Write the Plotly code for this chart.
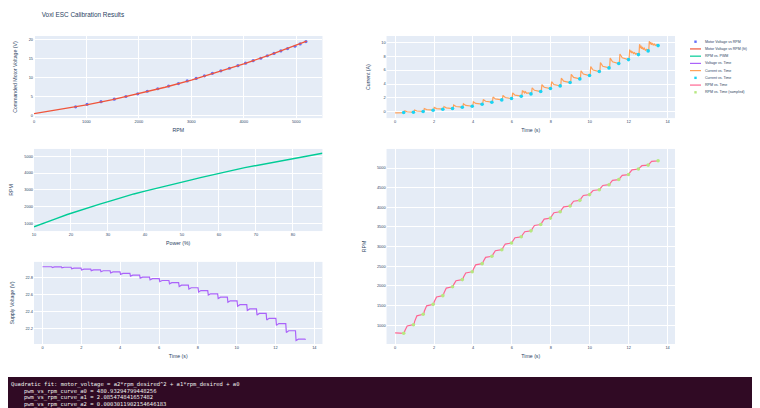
import plotly.graph_objects as go
from plotly.subplots import make_subplots

# ---------------- data ----------------
power_pct = [10, 13, 16, 19, 22, 25, 28, 31, 34, 37, 40, 43, 46, 49, 52, 55, 58,
             61, 64, 67, 70, 73, 76, 79, 82, 85, 88]
rpm_cal = [793, 1012, 1278, 1530, 1752, 1978, 2160, 2360, 2567, 2754, 2921, 3092,
           3250, 3402, 3563, 3726, 3888, 4033, 4178, 4324, 4448, 4576, 4707, 4835,
           4976, 5075, 5185]
motor_voltage = [2.29, 2.96, 3.65, 4.33, 5.02, 5.72, 6.40, 7.07, 7.76, 8.44, 9.12,
                 9.78, 10.46, 11.13, 11.80, 12.47, 13.14, 13.80, 14.46, 15.11, 15.76,
                 16.39, 17.03, 17.65, 18.27, 18.88, 19.49]
fit_rpm = [0, 500, 1000, 1500, 2000, 2500, 3000, 3500, 4000, 4500, 5000, 5200]
fit_voltage = [0.50, 1.56, 2.79, 4.18, 5.74, 7.46, 9.35, 11.40, 13.61, 15.99, 18.54, 19.60]

sample_time = [0.44, 0.94, 1.44, 1.95, 2.45, 2.95, 3.45, 3.96, 4.47, 4.97, 5.48, 5.98,
               6.48, 6.98, 7.48, 7.98, 8.48, 8.99, 9.49, 9.99, 10.49, 10.99, 11.49,
               11.99, 12.50, 13.00, 13.51]
current_sampled = [-0.10, -0.05, 0.05, 0.24, 0.38, 0.48, 0.67, 0.81, 1.10, 1.39, 1.72,
                   1.91, 2.25, 2.58, 2.92, 3.35, 3.73, 4.21, 4.74, 5.22, 5.79, 6.32,
                   6.94, 7.51, 8.23, 8.76, 9.52]

# logged time base shared by the supply-voltage and RPM logs
log_time = [0.00, 0.44,
            0.47, 0.50, 0.62, 0.94, 0.97, 1.00, 1.12, 1.44, 1.47, 1.50, 1.62, 1.95,
            1.98, 2.01, 2.13, 2.45, 2.48, 2.51, 2.63, 2.95, 2.98, 3.01, 3.13, 3.45,
            3.48, 3.51, 3.63, 3.96, 3.99, 4.02, 4.14, 4.47, 4.50, 4.53, 4.65, 4.97,
            5.00, 5.03, 5.15, 5.48, 5.51, 5.54, 5.66, 5.98, 6.01, 6.04, 6.16, 6.48,
            6.51, 6.54, 6.66, 6.98, 7.01, 7.04, 7.16, 7.48, 7.51, 7.54, 7.66, 7.98,
            8.01, 8.04, 8.16, 8.48, 8.51, 8.54, 8.66, 8.99, 9.02, 9.05, 9.17, 9.49,
            9.52, 9.55, 9.67, 9.99, 10.02, 10.05, 10.17, 10.49, 10.52, 10.55, 10.67, 10.99,
            11.02, 11.05, 11.17, 11.49, 11.52, 11.55, 11.67, 11.99, 12.02, 12.05, 12.17, 12.50,
            12.53, 12.56, 12.68, 13.00, 13.03, 13.06, 13.18, 13.51,
            13.56]
supply_voltage = [22.932, 22.932,
                  22.932, 22.922, 22.930, 22.930, 22.930, 22.918, 22.926, 22.926,
                  22.926, 22.907, 22.916, 22.916, 22.916, 22.893, 22.903, 22.903,
                  22.903, 22.885, 22.895, 22.895, 22.895, 22.873, 22.884, 22.884,
                  22.884, 22.858, 22.870, 22.870, 22.870, 22.841, 22.853, 22.853,
                  22.853, 22.820, 22.832, 22.832, 22.832, 22.795, 22.808, 22.808,
                  22.808, 22.776, 22.790, 22.790, 22.790, 22.754, 22.768, 22.768,
                  22.768, 22.728, 22.742, 22.742, 22.742, 22.697, 22.712, 22.712,
                  22.712, 22.667, 22.682, 22.682, 22.682, 22.632, 22.648, 22.648,
                  22.648, 22.594, 22.610, 22.610, 22.610, 22.554, 22.570, 22.570,
                  22.570, 22.509, 22.526, 22.526, 22.526, 22.462, 22.480, 22.480,
                  22.480, 22.411, 22.430, 22.430, 22.430, 22.356, 22.376, 22.376,
                  22.376, 22.298, 22.318, 22.318, 22.318, 22.234, 22.255, 22.255,
                  22.255, 22.150, 22.170, 22.170, 22.170, 22.054, 22.070, 22.070,
                  22.066]
rpm_log = [805, 800,
           793, 859, 979, 1012, 1012, 1092, 1238, 1278, 1278, 1354, 1492, 1530,
           1530, 1597, 1719, 1752, 1752, 1820, 1944, 1978, 1978, 2033, 2133, 2160,
           2160, 2220, 2330, 2360, 2360, 2422, 2536, 2567, 2567, 2623, 2726, 2754,
           2754, 2804, 2896, 2921, 2921, 2972, 3066, 3092, 3092, 3139, 3226, 3250,
           3250, 3296, 3379, 3402, 3402, 3450, 3539, 3563, 3563, 3612, 3702, 3726,
           3726, 3775, 3864, 3888, 3888, 3932, 4011, 4033, 4033, 4077, 4156, 4178,
           4178, 4222, 4302, 4324, 4324, 4361, 4429, 4448, 4448, 4486, 4557, 4576,
           4576, 4615, 4687, 4707, 4707, 4745, 4816, 4835, 4835, 4877, 4955, 4976,
           4976, 5006, 5060, 5075, 5075, 5108, 5169, 5185,
           5188]

# current log (denser where the reference trace rings after each step)
current_time = [0.00, 0.44,
                0.47, 0.50, 0.62, 0.94,
                0.97, 1.00, 1.12, 1.44,
                1.47, 1.50, 1.62, 1.95,
                1.98, 2.01, 2.13, 2.45,
                2.48, 2.51, 2.63, 2.95,
                2.98, 3.01, 3.13, 3.45,
                3.48, 3.51, 3.63, 3.96,
                3.99, 4.02, 4.14, 4.47,
                4.50, 4.53, 4.65, 4.97,
                5.00, 5.03, 5.15, 5.48,
                5.51, 5.54, 5.66, 5.98,
                6.01, 6.04, 6.16, 6.48,
                6.51, 6.54, 6.58, 6.61, 6.65, 6.70, 6.76, 6.84, 6.98,
                7.01, 7.04, 7.16, 7.48,
                7.51, 7.54, 7.66, 7.98,
                8.01, 8.04, 8.16, 8.48,
                8.51, 8.54, 8.66, 8.99,
                9.02, 9.05, 9.17, 9.49,
                9.52, 9.55, 9.67, 9.99,
                10.02, 10.05, 10.17, 10.49,
                10.52, 10.55, 10.67, 10.99,
                11.02, 11.05, 11.17, 11.49,
                11.52, 11.55, 11.67, 11.99,
                12.02, 12.05, 12.09, 12.12, 12.16, 12.20, 12.25, 12.30, 12.36, 12.42, 12.50,
                12.53, 12.56, 12.60, 12.63, 12.67, 12.71, 12.75, 12.80, 12.86, 12.93, 13.00,
                13.03, 13.06, 13.10, 13.13, 13.17, 13.21, 13.26, 13.31, 13.37, 13.44, 13.51,
                13.56]
current_log = [-0.15, -0.10,
               -0.10, 0.15, 0.02, -0.05,
               -0.05, 0.27, 0.12, 0.05,
               0.05, 0.48, 0.32, 0.24,
               0.24, 0.64, 0.47, 0.38,
               0.38, 0.76, 0.58, 0.48,
               0.48, 0.98, 0.77, 0.67,
               0.67, 1.15, 0.92, 0.81,
               0.81, 1.46, 1.22, 1.10,
               1.10, 1.78, 1.52, 1.39,
               1.39, 2.14, 1.86, 1.72,
               1.72, 2.36, 2.06, 1.91,
               1.91, 2.73, 2.41, 2.25,
               2.25, 3.09, 2.80, 3.00, 2.72, 2.88, 2.65, 2.72, 2.58,
               2.58, 3.46, 3.10, 2.92,
               2.92, 3.92, 3.54, 3.35,
               3.35, 4.33, 3.92, 3.73,
               3.73, 4.84, 4.41, 4.21,
               4.21, 5.40, 4.95, 4.74,
               4.74, 5.91, 5.44, 5.22,
               5.22, 6.51, 6.02, 5.79,
               5.79, 7.07, 6.56, 6.32,
               6.32, 7.72, 7.19, 6.94,
               6.94, 8.32, 7.77, 7.51,
               7.51, 8.95, 8.55, 8.80, 8.45, 8.65, 8.38, 8.52, 8.30, 8.40, 8.23,
               8.23, 9.72, 9.15, 9.50, 9.05, 9.32, 8.95, 9.15, 8.85, 8.98, 8.76,
               8.76, 10.15, 9.75, 10.00, 9.65, 9.88, 9.60, 9.75, 9.55, 9.65, 9.52,
               9.45]

terminal_lines = [
    "Quadratic fit: motor_voltage = a2*rpm_desired^2 + a1*rpm_desired + a0",
    "pwm_vs_rpm_curve_a0 = 480.93294799448256",
    "pwm_vs_rpm_curve_a1 = 2.085474841657482",
    "pwm_vs_rpm_curve_a2 = 0.0003011902154646183",
]

# ---------------- figure ----------------
# the page body has an 8 px margin, so the figure is 8 px smaller than the window
OFF = 8
W, H = 760 - OFF, 408 - OFF
ML, MR, MT, MB = 34 - OFF, 85, 36 - OFF, 64
PW, PH = W - ML - MR, H - MT - MB


def px(x):  # window pixel -> paper x
    return (x - OFF - ML) / PW


def py(y):  # window pixel -> paper y
    return (H - MB - (y - OFF)) / PH


FONT = "Liberation Sans, Arial, sans-serif"
TXT = "#2a3f5f"
C = ["#636efa", "#EF553B", "#00cc96", "#ab63fa", "#FFA15A", "#19d3f3", "#FF6692", "#B6E880"]

fig = make_subplots(rows=3, cols=2,
                    specs=[[{}, {}], [{}, {"rowspan": 2}], [{}, None]])

fig.add_trace(go.Scatter(x=rpm_cal, y=motor_voltage, mode="markers",
                         name="Motor Voltage vs RPM",
                         marker=dict(color=C[0], size=3.2)), row=1, col=1)
fig.add_trace(go.Scatter(x=fit_rpm, y=fit_voltage, mode="lines",
                         name="Motor Voltage vs RPM (fit)",
                         line=dict(color=C[1], width=1.3)), row=1, col=1)
fig.add_trace(go.Scatter(x=power_pct, y=rpm_cal, mode="lines", name="RPM vs. PWM",
                         line=dict(color=C[2], width=1.4)), row=2, col=1)
fig.add_trace(go.Scatter(x=log_time, y=supply_voltage, mode="lines", name="Voltage vs. Time",
                         line=dict(color=C[3], width=1.2)), row=3, col=1)
fig.add_trace(go.Scatter(x=current_time, y=current_log, mode="lines", name="Current vs. Time",
                         line=dict(color=C[4], width=1.2)), row=1, col=2)
fig.add_trace(go.Scatter(x=sample_time, y=current_sampled, mode="markers",
                         name="Current vs. Time",
                         marker=dict(color=C[5], size=3.6)), row=1, col=2)
fig.add_trace(go.Scatter(x=log_time, y=rpm_log, mode="lines", name="RPM vs. Time",
                         line=dict(color=C[6], width=1.2)), row=2, col=2)
fig.add_trace(go.Scatter(x=sample_time, y=rpm_cal, mode="markers",
                         name="RPM vs. Time (sampled)",
                         marker=dict(color=C[7], size=3.6)), row=2, col=2)

axis_common = dict(showgrid=True, gridcolor="white", gridwidth=0.8,
                   zeroline=True, zerolinecolor="white", zerolinewidth=1,
                   ticks="", automargin=False,
                   tickfont=dict(family=FONT, size=3.9, color=TXT))
xt = dict(family=FONT, size=5.2, color=TXT)

fig.update_xaxes(**axis_common)
fig.update_yaxes(**axis_common)

fig.update_layout(
    xaxis=dict(range=[0, 5500], dtick=1000, title=dict(text="RPM", font=xt, standoff=5)),
    yaxis=dict(range=[-0.68, 20.97], dtick=5,
               title=dict(text="Commanded Motor Voltage (V)", font=xt, standoff=10)),
    xaxis2=dict(range=[-0.44, 14.38], dtick=2, title=dict(text="Time (s)", font=xt, standoff=5)),
    yaxis2=dict(range=[-0.9, 10.9], dtick=2,
                title=dict(text="Current (A)", font=xt, standoff=10)),
    xaxis3=dict(range=[10, 88], dtick=10, title=dict(text="Power (%)", font=xt, standoff=5)),
    yaxis3=dict(range=[540, 5440], dtick=1000, title=dict(text="RPM", font=xt, standoff=10)),
    xaxis4=dict(range=[-0.44, 14.38], dtick=2, title=dict(text="Time (s)", font=xt, standoff=5)),
    yaxis4=dict(range=[521, 5487], dtick=500, title=dict(text="RPM", font=xt, standoff=10)),
    xaxis5=dict(range=[-0.44, 14.42], dtick=2, title=dict(text="Time (s)", font=xt, standoff=5)),
    yaxis5=dict(range=[22.012, 22.99], dtick=0.2,
                title=dict(text="Supply Voltage (V)", font=xt, standoff=10)),
)

# legend drawn as annotations + symbols so that its compact spacing matches
legend_items = [
    ("Motor Voltage vs RPM", C[0], "marker"),
    ("Motor Voltage vs RPM (fit)", C[1], "line"),
    ("RPM vs. PWM", C[2], "line"),
    ("Voltage vs. Time", C[3], "line"),
    ("Current vs. Time", C[4], "line"),
    ("Current vs. Time", C[5], "marker"),
    ("RPM vs. Time", C[6], "line"),
    ("RPM vs. Time (sampled)", C[7], "marker"),
]
shapes = []
annotations = []
for i, (name, col, kind) in enumerate(legend_items):
    yc = 41.7 + 7.23 * i
    if kind == "line":
        shapes.append(dict(type="line", xref="paper", yref="paper",
                           x0=px(690), x1=px(701), y0=py(yc), y1=py(yc),
                           line=dict(color=col, width=1.2)))
    else:
        shapes.append(dict(type="rect", xref="paper", yref="paper",
                           x0=px(694.3), x1=px(696.7), y0=py(yc + 1.2), y1=py(yc - 1.2),
                           fillcolor=col, line=dict(width=0)))
    annotations.append(dict(text=name, xref="paper", yref="paper", x=px(703), y=py(yc),
                            xanchor="left", yanchor="middle", showarrow=False,
                            font=dict(family=FONT, size=3.6, color=TXT)))

# terminal strip underneath the figure
shapes.append(dict(type="rect", xref="paper", yref="paper", x0=px(0), x1=px(762),
                   y0=py(410), y1=py(377), fillcolor="#300a24", line=dict(width=0),
                   layer="above"))
term_x = [9, 22.4, 22.4, 22.4]
term_y = [384.5, 391.0, 397.5, 404.0]
for line, tx, ty in zip(terminal_lines, term_x, term_y):
    annotations.append(dict(text=line, xref="paper", yref="paper", x=px(tx), y=py(ty),
                            xanchor="left", yanchor="middle", showarrow=False,
                            font=dict(family="DejaVu Sans Mono, Liberation Mono, monospace",
                                      size=5.5, color="#eeeeec")))

fig.update_layout(
    width=W, height=H,
    margin=dict(l=ML, r=MR, t=MT, b=MB, autoexpand=False),
    plot_bgcolor="#E5ECF6", paper_bgcolor="white",
    showlegend=False,
    font=dict(family=FONT, color=TXT),
    title=dict(text="Voxl ESC Calibration Results", x=(41.7 - OFF) / W, xanchor="left",
               y=1 - (15 - OFF) / H, yanchor="middle",
               font=dict(family=FONT, size=6.4, color=TXT)),
    shapes=shapes, annotations=annotations,
)

fig.write_html("out.html")
